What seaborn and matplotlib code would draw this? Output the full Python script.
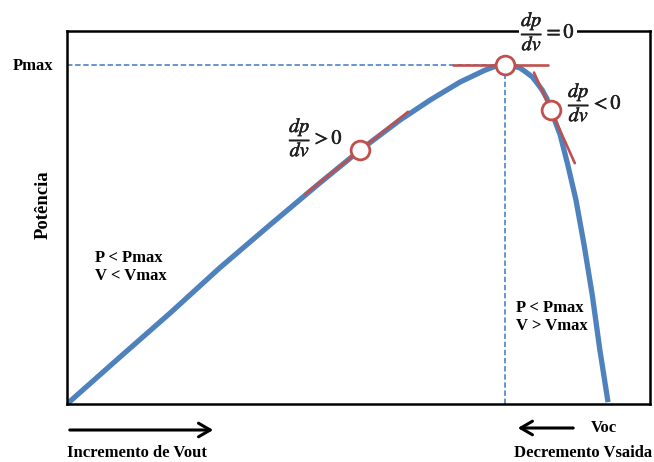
import matplotlib
matplotlib.use("Agg")
import matplotlib.pyplot as plt
import matplotlib.patheffects as pe
import numpy as np
import pandas as pd
import seaborn as sns

# P-V characteristic of a PV module (normalised voltage / power units)
voltage = [0.0, 9.1, 17.7, 26.2, 34.8, 43.4, 50.3, 57.1, 62.3, 67.4, 71.7, 73.4,
           75.1, 76.3, 77.7, 78.7, 79.8, 80.6, 81.5, 82.3, 83.0, 84.6, 85.9, 87.3,
           88.7, 90.1, 91.4, 92.8]
power = [0.0, 12.6, 24.4, 36.5, 48.0, 59.3, 68.1, 76.1, 81.5, 86.3, 89.5, 90.5,
         90.9, 90.7, 90.1, 89.0, 87.7, 86.1, 84.2, 81.9, 78.8, 72.1, 64.1, 54.7,
         42.6, 29.2, 14.5, 0.5]

# operating points where the slope dp/dv is evaluated
tangent_v = [50.3, 75.1, 83.0]
tangent_p = [68.1, 90.9, 78.8]
tangent_slope = [1.25, 0.0, -3.47]
tangent_span = [(40.8, 58.5), (66.2, 82.5), (80.1, 87.1)]
tangent_labels = [r"$\dfrac{dp}{dv} > 0$", r"$\dfrac{dp}{dv} = 0$", r"$\dfrac{dp}{dv} < 0$"]

v_mpp, p_mpp = tangent_v[1], tangent_p[1]

sns.set_style("white")
plt.rcParams["font.family"] = ["Liberation Serif", "DejaVu Serif"]
plt.rcParams["mathtext.fontset"] = "stix"

W, H = 654, 462
fig = plt.figure(figsize=(W / 100, H / 100), dpi=100)
ax = fig.add_axes([67 / W, (H - 404) / H, (650 - 67) / W, (404 - 31) / H])

curve = pd.DataFrame({"V": voltage, "P": power})
blue = "#4f81bd"
red = "#c0504d"

# dashed guides to the maximum power point
ax.plot([0, v_mpp], [p_mpp, p_mpp], ls=(0, (3, 1.5)), color="#5b8bd0", lw=1.3, zorder=1)
ax.plot([v_mpp, v_mpp], [0, p_mpp], ls=(0, (3, 1.5)), color="#5b8bd0", lw=1.3, zorder=1)

sns.lineplot(data=curve, x="V", y="P", ax=ax, color=blue, lw=3.8,
             sort=False, estimator=None, zorder=2, solid_capstyle="butt",
             solid_joinstyle="round")

for v0, p0, m, (a, b) in zip(tangent_v, tangent_p, tangent_slope, tangent_span):
    xs = np.array([a, b])
    ax.plot(xs, p0 + m * (xs - v0), color=red, lw=1.9, zorder=3)
ax.plot(tangent_v, tangent_p, ls="none", marker="o", ms=13.5,
        mfc="white", mec=red, mew=2.0, zorder=4)

ax.set_xlim(0, 100)
ax.set_ylim(0, 100)
ax.set_xticks([])
ax.set_yticks([])
ax.set_xlabel("")
ax.set_ylabel("")
for s in ax.spines.values():
    s.set_color("black")
    s.set_linewidth(1.8)
    s.set_visible(True)


def fx(px):
    return px / W


def fy(py):
    return 1 - py / H


bold = dict(fontweight="bold", color="black")
fig.text(fx(33), fy(66), "Pmax", ha="center", va="center", fontsize=12, **bold)
fig.text(fx(43), fy(205), "Potência", ha="center", va="center", rotation=90,
         fontsize=13.5, **bold)
fig.text(fx(95), fy(267), "P < Pmax\nV < Vmax", ha="left", va="center",
         fontsize=12, linespacing=1.25, **bold)
fig.text(fx(516), fy(317), "P < Pmax\nV > Vmax", ha="left", va="center",
         fontsize=12, linespacing=1.25, **bold)
fig.text(fx(67), fy(453), "Incremento de Vout", ha="left", va="center",
         fontsize=12, **bold)
fig.text(fx(652), fy(453), "Decremento Vsaida", ha="right", va="center",
         fontsize=12, **bold)
fig.text(fx(604), fy(428), "Voc", ha="center", va="center", fontsize=12, **bold)

# slope annotations; the one at the maximum sits on the top frame line
label_pos = [(316, 137), (548, 31), (595, 102)]
for i, ((px, py), lab) in enumerate(zip(label_pos, tangent_labels)):
    box = dict(boxstyle="square,pad=0.12", fc="white", ec="none") if i == 1 else None
    fig.text(fx(px), fy(py), lab, ha="center", va="center", fontsize=14.5,
             color="#1f1f1f", zorder=5,
             path_effects=[pe.withStroke(linewidth=0.35, foreground="#1f1f1f")],
             bbox=box)

# direction arrows under the axis
arrow_style = dict(arrowstyle="->,head_length=0.6,head_width=0.35", color="black", lw=2.2)
fig.add_artist(matplotlib.patches.FancyArrowPatch(
    (fx(67), fy(430)), (fx(216), fy(430)), transform=fig.transFigure,
    **arrow_style, mutation_scale=14))
fig.add_artist(matplotlib.patches.FancyArrowPatch(
    (fx(576), fy(428)), (fx(515), fy(428)), transform=fig.transFigure,
    **arrow_style, mutation_scale=14))

fig.savefig("out.png", dpi=100, facecolor="white")
